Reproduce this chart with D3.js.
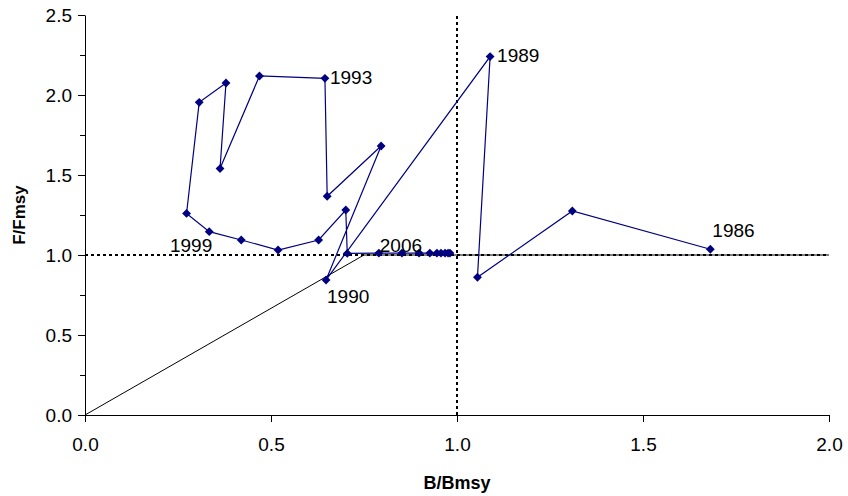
<!DOCTYPE html>
<html>
<head>
<meta charset="utf-8">
<script src="https://cdn.jsdelivr.net/npm/d3@7"></script>
<style>
  body { margin: 0; background: #fff; }
  svg { font-family: "Liberation Sans", Arial, sans-serif; }
</style>
</head>
<body>
<div id="container"></div>
<script>
/* DATA */
const years = [1986, 1987, 1988, 1989, 1990, 1991, 1992, 1993, 1994, 1995,
  1996, 1997, 1998, 1999, 2000, 2001, 2002, 2003, 2004, 2005,
  2006, 2007, 2008, 2009, 2010, 2011, 2012, 2013];
const bRatio = [1.681, 1.310, 1.055, 1.089, 0.648, 0.796, 0.651, 0.645, 0.469, 0.363,
  0.379, 0.307, 0.273, 0.334, 0.420, 0.519, 0.628, 0.701, 0.705, 0.790,
  0.852, 0.898, 0.927, 0.946, 0.957, 0.968, 0.976, 0.981];
const fRatio = [1.036, 1.275, 0.861, 2.240, 0.844, 1.681, 1.367, 2.104, 2.119, 1.540,
  2.075, 1.954, 1.260, 1.146, 1.094, 1.031, 1.094, 1.281, 1.010, 1.012,
  1.012, 1.012, 1.012, 1.012, 1.012, 1.012, 1.012, 1.012];
const labelYears = [1986, 1989, 1990, 1993, 1999, 2006];

// harvest control rule
const ruleB = [0, 0.75, 2.0];
const ruleF = [0, 1.0, 1.0];

const xTicks = [0, 0.5, 1.0, 1.5, 2.0];
const yTicks = [0, 0.5, 1.0, 1.5, 2.0, 2.5];
const yMinor = [0.25, 0.75, 1.25, 1.75, 2.25];

const width = 848,
  height = 496,
  margin = { top: 15, bottom: 81, left: 85, right: 19 };

const data = years.map((y, i) => ({ year: y, b: bRatio[i], f: fRatio[i] }));
const rule = ruleB.map((b, i) => ({ b: b, f: ruleF[i] }));

/* SCALES */
const xScale = d3.scaleLinear()
  .domain([0, 2])
  .range([margin.left, width - margin.right]);

const yScale = d3.scaleLinear()
  .domain([0, 2.5])
  .range([height - margin.bottom, margin.top]);

const svg = d3.select("#container")
  .append("svg")
  .attr("width", width)
  .attr("height", height);

// reference line at B/Bmsy = 1
svg.append("line")
  .attr("x1", xScale(1)).attr("x2", xScale(1))
  .attr("y1", yScale(0)).attr("y2", yScale(2.5))
  .attr("stroke", "black")
  .attr("stroke-width", 2)
  .attr("stroke-dasharray", "3,3");

// control rule
const line = d3.line()
  .x(d => xScale(d.b))
  .y(d => yScale(d.f));

svg.append("path")
  .datum(rule)
  .attr("d", line)
  .attr("fill", "none")
  .attr("stroke", "#000")
  .attr("stroke-width", 1);

// reference line at F/Fmsy = 1
svg.append("line")
  .attr("x1", xScale(0)).attr("x2", xScale(2))
  .attr("y1", yScale(1)).attr("y2", yScale(1))
  .attr("stroke", "black")
  .attr("stroke-width", 2)
  .attr("stroke-dasharray", "3,3");

/* AXES */
const xAxis = d3.axisBottom(xScale)
  .tickValues(xTicks)
  .tickFormat(d3.format(".1f"))
  .tickSize(7)
  .tickSizeOuter(0)
  .tickPadding(16);
svg.append("g")
  .attr("transform", `translate(0, ${height - margin.bottom})`)
  .call(xAxis)
  .call(g => g.selectAll("text").attr("font-size", 19).attr("fill", "#000").attr("font-family", null))
  .call(g => g.selectAll("line, path").attr("stroke", "#000"));

const yAxis = d3.axisLeft(yScale)
  .tickValues(yTicks)
  .tickFormat(d3.format(".1f"))
  .tickSize(7)
  .tickSizeOuter(0)
  .tickPadding(6);
svg.append("g")
  .attr("transform", `translate(${margin.left}, 0)`)
  .call(yAxis)
  .call(g => g.selectAll("text").attr("font-size", 19).attr("fill", "#000").attr("font-family", null))
  .call(g => g.selectAll("line, path").attr("stroke", "#000"));

// minor y ticks
svg.append("g")
  .attr("transform", `translate(${margin.left}, 0)`)
  .call(d3.axisLeft(yScale).tickValues(yMinor).tickSize(5).tickFormat(""))
  .call(g => g.select(".domain").remove())
  .call(g => g.selectAll("line").attr("stroke", "#000"));

// axis titles
svg.append("text")
  .attr("x", xScale(1))
  .attr("y", 489)
  .attr("text-anchor", "middle")
  .attr("font-weight", "bold")
  .attr("font-size", 18)
  .text("B/Bmsy");

svg.append("text")
  .attr("transform", `translate(25, ${yScale(1.25)}) rotate(-90)`)
  .attr("text-anchor", "middle")
  .attr("font-weight", "bold")
  .attr("font-size", 17)
  .text("F/Fmsy");

/* SERIES */
svg.append("path")
  .datum(data)
  .attr("d", line)
  .attr("fill", "none")
  .attr("stroke", "#000080")
  .attr("stroke-width", 1.2);

svg.selectAll(".pt")
  .data(data)
  .join("path")
  .attr("class", "pt")
  .attr("d", d3.symbol(d3.symbolDiamond2, 50))
  .attr("transform", d => `translate(${xScale(d.b)}, ${yScale(d.f)})`)
  .attr("fill", "#000080");

// year labels: offset from point [dx, dy, anchor]
const labelPos = {
  1986: [2, -19, "start"],
  1989: [7, -1, "start"],
  1990: [1, 16, "start"],
  1993: [5, -1, "start"],
  1999: [3, 14, "end"],
  2006: [-1, -8, "middle"]
};

svg.selectAll(".yr")
  .data(data.filter(d => labelYears.includes(d.year)))
  .join("text")
  .attr("class", "yr")
  .attr("x", d => xScale(d.b) + labelPos[d.year][0])
  .attr("y", d => yScale(d.f) + labelPos[d.year][1])
  .attr("dy", "0.35em")
  .attr("text-anchor", d => labelPos[d.year][2])
  .attr("font-size", 19)
  .text(d => d.year);
</script>
</body>
</html>
